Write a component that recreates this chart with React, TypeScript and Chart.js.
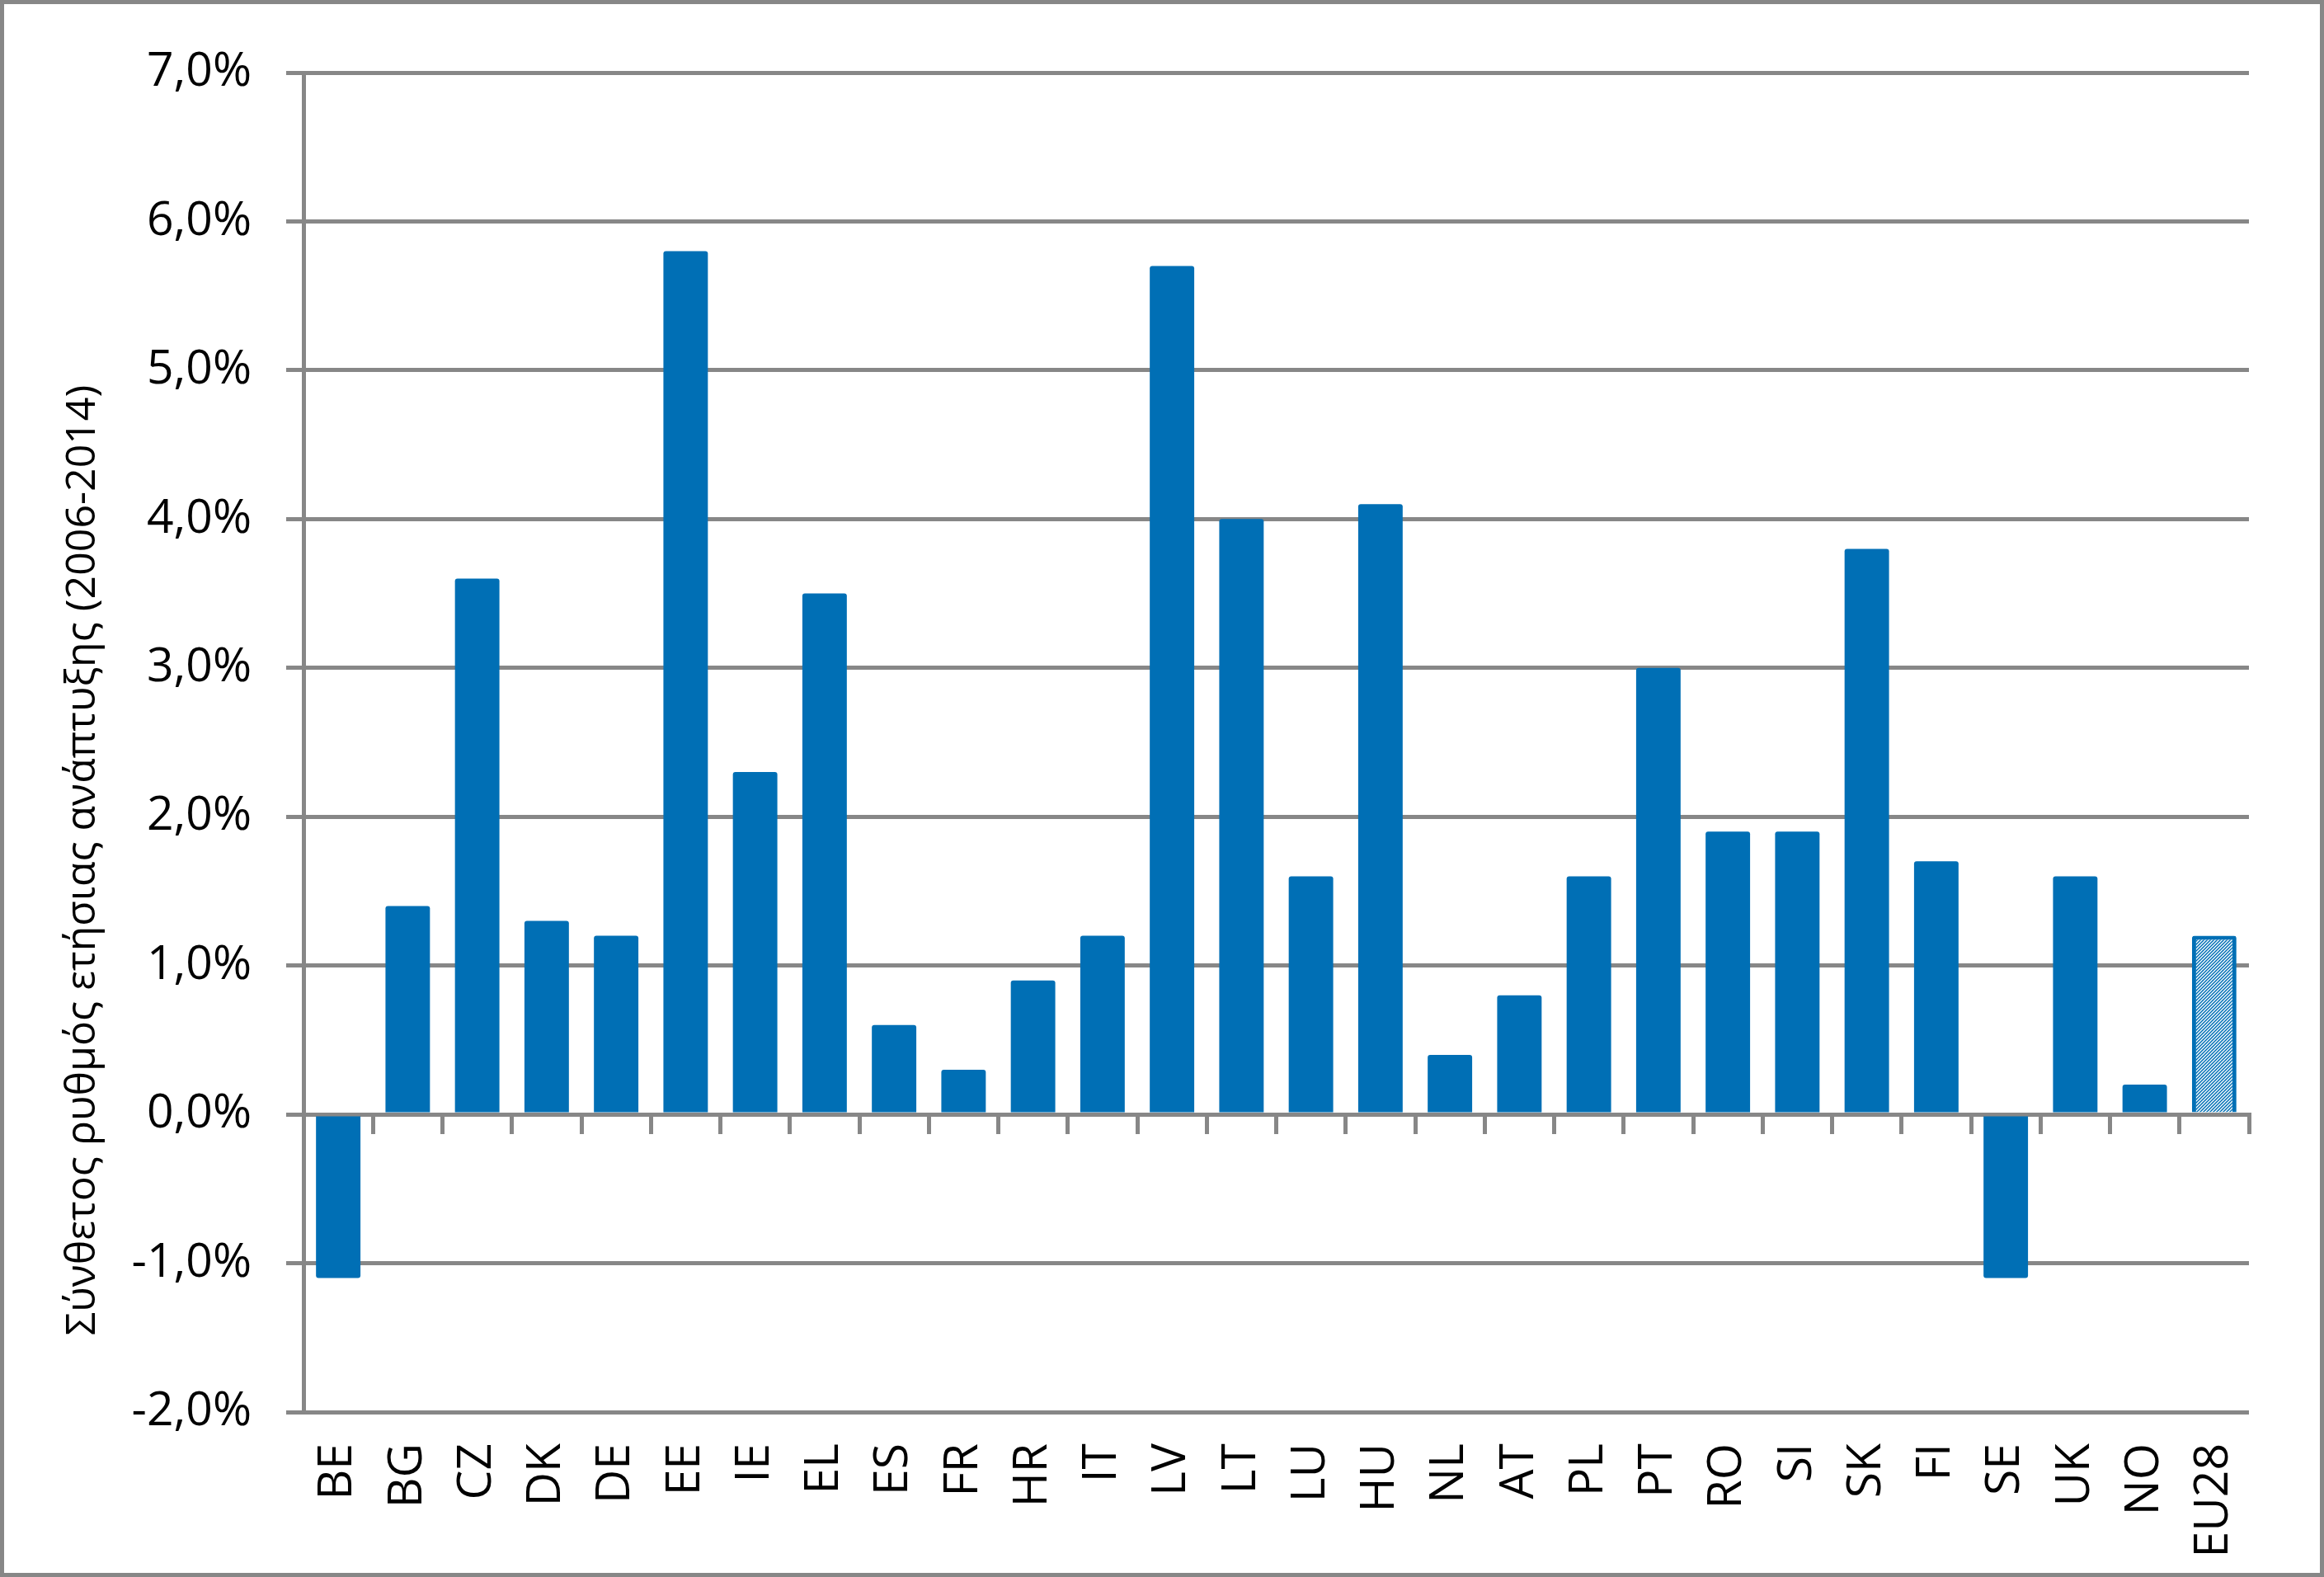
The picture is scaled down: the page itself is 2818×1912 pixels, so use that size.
import React, { useEffect, useRef } from 'react';
import { Chart, registerables } from 'chart.js';

Chart.register(...registerables);

// ---- data ----
const categories = ['BE', 'BG', 'CZ', 'DK', 'DE', 'EE', 'IE', 'EL', 'ES', 'FR', 'HR', 'IT', 'LV', 'LT', 'LU', 'HU', 'NL', 'AT', 'PL', 'PT', 'RO', 'SI', 'SK', 'FI', 'SE', 'UK', 'NO', 'EU28'];
const growth = [-1.1, 1.4, 3.6, 1.3, 1.2, 5.8, 2.3, 3.5, 0.6, 0.3, 0.9, 1.2, 5.7, 4.0, 1.6, 4.1, 0.4, 0.8, 1.6, 3.0, 1.9, 1.9, 3.8, 1.7, -1.1, 1.6, 0.2, 1.2];
const hatchedCategories = ['EU28'];
const yMin = -2;
const yMax = 7;
const yStep = 1;
const yTitle = 'Σύνθετος ρυθμός ετήσιας ανάπτυξης (2006-2014)';

// ---- style ----
const W = 2818;
const H = 1912;
const FRAME = 5;
const CW = W - 2 * FRAME;
const CH = H - 2 * FRAME;
const BLUE = '#006fb5';
const GRID = '#878787';
const FONT = '"Open Sans", "Noto Sans", sans-serif';

function makeHatch(): CanvasPattern | string {
  const c = document.createElement('canvas');
  c.width = 4;
  c.height = 4;
  const g = c.getContext('2d');
  if (!g) return BLUE;
  g.fillStyle = BLUE;
  g.fillRect(0, 0, 4, 4);
  g.strokeStyle = '#ffffff';
  g.lineWidth = 1.3;
  g.beginPath();
  g.moveTo(-1, 5);
  g.lineTo(5, -1);
  g.moveTo(-1, 1);
  g.lineTo(1, -1);
  g.moveTo(3, 5);
  g.lineTo(5, 3);
  g.stroke();
  const p = g.createPattern(c, 'repeat');
  return p || BLUE;
}

const titlePlugin = {
  id: 'sideTitle',
  afterDraw(chart: any) {
    const ctx = chart.ctx;
    ctx.save();
    ctx.translate(110, 1038);
    ctx.rotate(-Math.PI / 2);
    ctx.font = `50px ${FONT}`;
    ctx.fillStyle = '#000';
    ctx.textAlign = 'center';
    ctx.textBaseline = 'alphabetic';
    ctx.fillText(yTitle, 0, 0);
    ctx.restore();
  },
};

export default function App() {
  const ref = useRef<HTMLCanvasElement | null>(null);

  useEffect(() => {
    document.body.style.margin = '0';
    const canvas = ref.current;
    if (!canvas) return;
    const hatch = makeHatch();
    const bg = categories.map((c) => (hatchedCategories.includes(c) ? hatch : BLUE));
    const bw = categories.map((c) => (hatchedCategories.includes(c) ? 5 : 0));

    const chart = new Chart(canvas, {
      type: 'bar',
      data: {
        labels: categories,
        datasets: [
          {
            data: growth,
            backgroundColor: bg as any,
            borderColor: BLUE,
            borderWidth: bw,
            borderRadius: 3,
            barPercentage: 0.64,
            categoryPercentage: 1,
          },
        ],
      },
      options: {
        animation: false,
        responsive: false,
        devicePixelRatio: 1,
        layout: { padding: { top: 83, right: 86, left: 0, bottom: 0 } },
        plugins: {
          legend: { display: false },
          tooltip: { enabled: false },
          title: { display: false },
        },
        scales: {
          x: {
            type: 'category',
            position: 'bottom',
            offset: true,
            grid: { display: false, drawTicks: false, offset: true },
            border: { display: false },
            ticks: {
              color: '#000',
              font: { family: FONT, size: 57, weight: 500 },
              minRotation: 90,
              maxRotation: 90,
              padding: 38,
              autoSkip: false,
            },
            afterFit: (s: any) => {
              s.height = 195;
            },
          },
          x2: {
            type: 'category',
            position: { y: 0 },
            offset: true,
            grid: {
              offset: true,
              drawOnChartArea: false,
              drawTicks: true,
              tickLength: 21,
              color: GRID,
              lineWidth: 5,
            },
            border: { display: true, color: GRID, width: 5 },
            ticks: { display: false },
          },
          y: {
            min: yMin,
            max: yMax,
            ticks: {
              stepSize: yStep,
              color: '#000',
              font: { family: FONT, size: 57, weight: 500 },
              padding: 42,
              callback: (v: any) => Number(v).toFixed(1).replace('.', ',') + '%',
            },
            grid: { color: GRID, lineWidth: 5, tickLength: 21, drawTicks: true },
            border: { display: true, color: GRID, width: 5 },
            afterFit: (s: any) => {
              s.width = 363;
            },
          },
        } as any,
      },
      plugins: [titlePlugin],
    });
    return () => chart.destroy();
  }, []);

  return (
    <div
      style={{
        width: W,
        height: H,
        boxSizing: 'border-box',
        border: `${FRAME}px solid ${GRID}`,
        background: '#fff',
        overflow: 'hidden',
      }}
    >
      <canvas ref={ref} width={CW} height={CH} style={{ width: CW, height: CH, display: 'block' }} />
    </div>
  );
}
